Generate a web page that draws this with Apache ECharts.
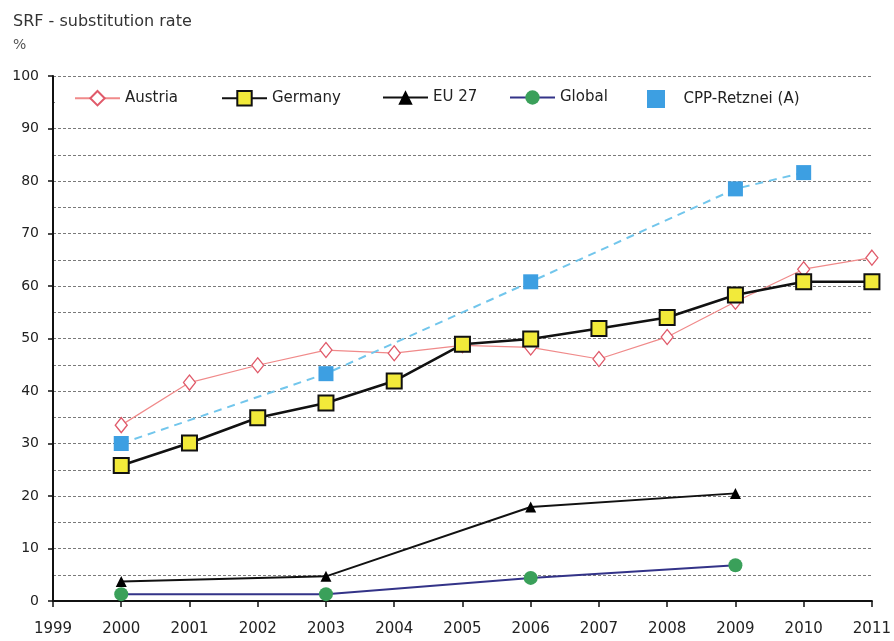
<!DOCTYPE html>
<html>
<head>
<meta charset="utf-8">
<title>SRF - substitution rate</title>
<script src="https://cdn.jsdelivr.net/npm/echarts@6/dist/echarts.min.js"></script>
<style>
  html, body { margin: 0; padding: 0; background: #fff; }
  #chart { width: 894px; height: 641px; }
</style>
</head>
<body>
<div id="chart"></div>
<script>
// Years on the horizontal axis
const years = ['1999', '2000', '2001', '2002', '2003', '2004', '2005', '2006', '2007', '2008', '2009', '2010', '2011'];

// Substitution rate of secondary fuels, % (null = no value for that year)
const austria = [null, 33.5, 41.6, 44.9, 47.8, 47.2, 48.7, 48.3, 46.1, 50.3, 57.0, 63.2, 65.4];
const germany = [null, 25.8, 30.1, 34.9, 37.7, 41.9, 48.9, 49.9, 51.9, 54.0, 58.3, 60.8, 60.8];
const eu27 = [null, 3.7, null, null, 4.7, null, null, 17.9, null, null, 20.5, null, null];
const global = [null, 1.3, null, null, 1.3, null, null, 4.4, null, null, 6.8, null, null];
const cppRetznei = [null, 30.0, null, null, 43.3, null, null, 60.8, null, null, 78.5, 81.6, null];

// Legend entry names, in drawing order
const seriesNames = ['Austria', 'Germany', 'EU 27', 'Global', 'CPP-Retznei (A)'];

const FONT = 'DejaVu Sans';
const legendTop = 90;
const legendLeft = [74, 221, 382, 509, 647];

const legendBase = {
  top: legendTop,
  padding: 0,
  itemWidth: 45,
  itemHeight: 18,
  textStyle: { fontFamily: FONT, fontSize: 15, color: '#222' }
};

const legends = seriesNames.map((name, i) => Object.assign({}, legendBase, {
  left: legendLeft[i],
  data: [name === 'CPP-Retznei (A)'
    ? { name: name, icon: 'path://M0,0L10,0L10,10L0,10Z' }
    : name]
}));

const chart = echarts.init(document.getElementById('chart'), null, { renderer: 'canvas' });

chart.setOption({
  animation: false,
  backgroundColor: '#fff',
  textStyle: { fontFamily: FONT },
  title: {
    text: 'SRF - substitution rate',
    subtext: '%',
    left: 8,
    top: 9,
    itemGap: 8,
    textStyle: { fontFamily: FONT, fontSize: 16, fontWeight: 'normal', color: '#333' },
    subtextStyle: { fontFamily: FONT, fontSize: 14, color: '#555' }
  },
  // white band behind the legend row
  graphic: [{
    type: 'rect',
    z: 1,
    silent: true,
    shape: { x: 55, y: 88, width: 819, height: 26 },
    style: { fill: '#fff' }
  }],
  legend: legends,
  grid: { left: 53, right: 18, top: 76, bottom: 40, containLabel: false },
  xAxis: {
    type: 'category',
    data: years,
    boundaryGap: false,
    axisLine: { lineStyle: { color: '#111', width: 2 } },
    axisTick: { show: true, length: 6, lineStyle: { color: '#111', width: 1.5 } },
    axisLabel: { fontFamily: FONT, fontSize: 15, color: '#222', margin: 21 },
    splitLine: { show: false }
  },
  yAxis: {
    type: 'value',
    min: 0,
    max: 100,
    interval: 10,
    axisLine: { show: true, lineStyle: { color: '#111', width: 2 } },
    axisTick: { show: true, length: 5, lineStyle: { color: '#111', width: 1.5 } },
    axisLabel: { fontFamily: FONT, fontSize: 14, color: '#222', margin: 14 },
    splitLine: { show: true, lineStyle: { color: '#7a7a7a', width: 1, type: [3, 2] } },
    minorTick: { show: false, splitNumber: 2 },
    minorSplitLine: { show: true, lineStyle: { color: '#7a7a7a', width: 1, type: [3, 2] } }
  },
  series: [
    {
      name: 'Austria',
      type: 'line',
      data: austria,
      z: 3,
      symbol: 'diamond',
      symbolSize: [12, 15],
      lineStyle: { color: '#f08a8a', width: 1.2 },
      itemStyle: { color: '#fff', borderColor: '#e05a6a', borderWidth: 1.3 }
    },
    {
      name: 'Germany',
      type: 'line',
      data: germany,
      z: 4,
      symbol: 'rect',
      symbolSize: 15,
      lineStyle: { color: '#111', width: 2.6 },
      itemStyle: { color: '#f2ea3a', borderColor: '#111', borderWidth: 2 }
    },
    {
      name: 'EU 27',
      type: 'line',
      data: eu27,
      connectNulls: true,
      symbol: 'triangle',
      symbolSize: 11,
      lineStyle: { color: '#111', width: 2 },
      itemStyle: { color: '#000', borderWidth: 0 }
    },
    {
      name: 'Global',
      type: 'line',
      data: global,
      connectNulls: true,
      symbol: 'circle',
      symbolSize: 14,
      lineStyle: { color: '#333388', width: 2 },
      itemStyle: { color: '#3aa05a', borderWidth: 0 }
    },
    {
      name: 'CPP-Retznei (A)',
      type: 'line',
      data: cppRetznei,
      connectNulls: true,
      symbol: 'rect',
      symbolSize: 15,
      lineStyle: { color: '#72c6ec', width: 2, type: [8, 6] },
      itemStyle: { color: '#3d9fe2', borderWidth: 0 }
    }
  ]
});
</script>
</body>
</html>
